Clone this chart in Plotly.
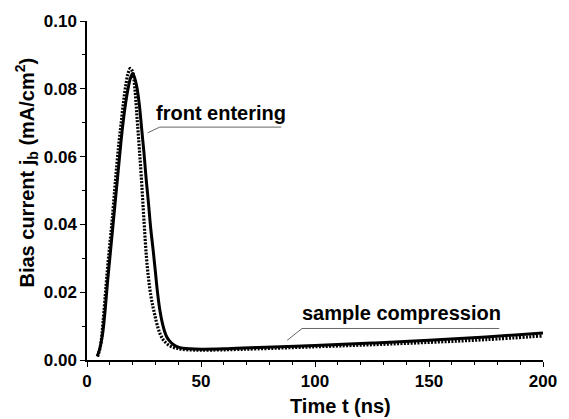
import plotly.graph_objects as go

# Solid curve
t_solid = [4.4, 5, 6, 7, 8, 9, 10, 11, 12, 13, 14, 15, 16, 17, 18, 19, 20, 21, 22, 23,
           24, 25, 26, 27, 28, 29, 30, 31, 32, 33, 34, 35, 36, 38, 40, 42, 45, 50, 60,
           75, 100, 125, 150, 175, 200]
j_solid = [0.0012, 0.002, 0.0045, 0.0085, 0.015, 0.023, 0.030, 0.037, 0.044, 0.051,
           0.058, 0.065, 0.071, 0.076, 0.080, 0.083, 0.0845, 0.083, 0.080, 0.075,
           0.068, 0.061, 0.053, 0.046, 0.0385, 0.0325, 0.026, 0.0195, 0.0145, 0.011,
           0.0085, 0.0068, 0.0058, 0.0045, 0.0038, 0.0035, 0.0033, 0.0032, 0.0033,
           0.0037, 0.0043, 0.0050, 0.0058, 0.0068, 0.0080]

# Dotted curve
t_dot = [4.6, 5, 6, 7, 8, 9, 10, 11, 12, 13, 14, 15, 16, 17, 18, 19, 20, 21, 22, 23,
         24, 25, 26, 27, 28, 29, 30, 31, 32, 33, 34, 36, 38, 40, 42, 45, 50, 60, 75,
         100, 125, 150, 175, 200]
j_dot = [0.001, 0.0018, 0.0045, 0.011, 0.019, 0.027, 0.034, 0.041, 0.049, 0.057,
         0.064, 0.070, 0.076, 0.081, 0.0845, 0.086, 0.085, 0.080, 0.071, 0.062,
         0.052, 0.041, 0.031, 0.024, 0.019, 0.0155, 0.0125, 0.0098, 0.0078, 0.0064,
         0.0055, 0.0043, 0.0037, 0.0034, 0.0031, 0.0030, 0.0029, 0.0030, 0.0033,
         0.0039, 0.0045, 0.0052, 0.0060, 0.0071]

x_ticks = [0, 50, 100, 150, 200]
y_ticks = [0.00, 0.02, 0.04, 0.06, 0.08, 0.10]

FONT = "Liberation Sans, Arial, sans-serif"

fig = go.Figure()
fig.add_trace(go.Scatter(x=t_dot, y=j_dot, mode="lines",
                         line=dict(color="black", width=3.2, dash="2px,1.4px", shape="spline"),
                         showlegend=False))
fig.add_trace(go.Scatter(x=t_solid, y=j_solid, mode="lines",
                         line=dict(color="black", width=3, shape="spline"),
                         showlegend=False))

# leader lines for labels
fig.add_shape(type="path", path="M 26.6 0.067 L 31.9 0.0687 L 85.2 0.0687",
              line=dict(color="#666", width=1), xref="x", yref="y")
fig.add_shape(type="path", path="M 87.8 0.0058 L 94.3 0.0093 L 180.8 0.0093",
              line=dict(color="#666", width=1), xref="x", yref="y")

fig.add_annotation(x=58.7, y=0.073, text="<b>front entering</b>", showarrow=False,
                   xanchor="center", yanchor="middle",
                   font=dict(family=FONT, size=20, color="black"))
fig.add_annotation(x=137.8, y=0.0139, text="<b>sample compression</b>", showarrow=False,
                   xanchor="center", yanchor="middle",
                   font=dict(family=FONT, size=20, color="black"))

# axis titles
fig.add_annotation(xref="paper", yref="paper", x=0.555, y=-0.136,
                   xanchor="center", yanchor="middle",
                   text="<b>Time t (ns)</b>", showarrow=False,
                   font=dict(family=FONT, size=20, color="black"))
fig.add_annotation(xref="paper", yref="paper", x=-0.133, y=0.554, textangle=-90,
                   xanchor="center", yanchor="middle",
                   text="<b>Bias current j<sub>b</sub> (mA/cm<sup>2</sup>)</b>", showarrow=False,
                   font=dict(family=FONT, size=20, color="black"))

axis_common = dict(showgrid=False, zeroline=False, showline=True, linecolor="black",
                   linewidth=1.5, ticks="outside", ticklen=5, tickwidth=1.2,
                   tickcolor="black",
                   tickfont=dict(family=FONT, size=17, color="black", weight="bold"))

fig.update_xaxes(range=[0, 200], tickvals=x_ticks, ticktext=[str(v) for v in x_ticks],
                 minor=dict(dtick=10, ticklen=3, ticks="outside", tickcolor="black"),
                 **axis_common)
fig.update_yaxes(range=[0, 0.1], tickvals=y_ticks, ticktext=[f"{v:.2f}" for v in y_ticks],
                 minor=dict(dtick=0.01, ticklen=3, ticks="outside", tickcolor="black"),
                 **axis_common)

fig.update_layout(width=569, height=419, margin=dict(l=87, r=24, t=15, b=59),
                  plot_bgcolor="white", paper_bgcolor="white",
                  font=dict(family=FONT, color="black"))

fig.write_html("out.html")
